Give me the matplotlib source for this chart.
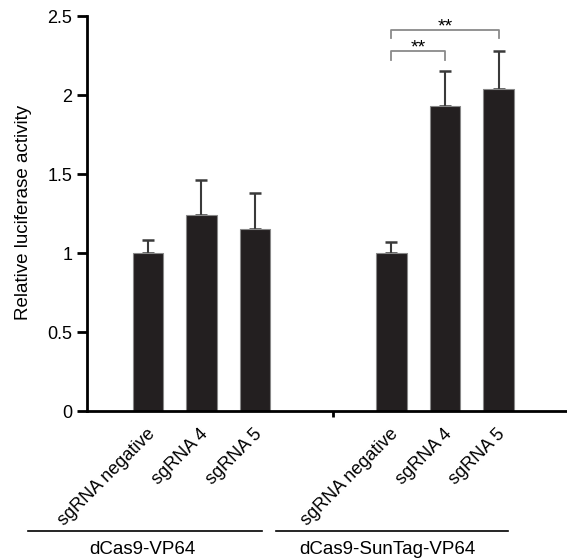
import matplotlib.pyplot as plt
from matplotlib.lines import Line2D
from matplotlib.transforms import ScaledTranslation

plt.rcParams['font.family'] = ['Liberation Sans', 'DejaVu Sans']

# data
categories = ['sgRNA negative', 'sgRNA 4', 'sgRNA 5',
              'sgRNA negative', 'sgRNA 4', 'sgRNA 5']
positions = [0, 1, 2, 4.55, 5.55, 6.55]
means = [1.0, 1.24, 1.15, 1.0, 1.93, 2.04]
errors = [0.08, 0.22, 0.23, 0.07, 0.22, 0.24]
groups = ['dCas9-VP64', 'dCas9-SunTag-VP64']
yticks = [0, 0.5, 1, 1.5, 2, 2.5]
ytick_labels = ['0', '0.5', '1', '1.5', '2', '2.5']

fig = plt.figure(figsize=(5.67, 5.58), dpi=100)
ax = fig.add_axes([0.1534, 0.2634, 0.8466, 0.7079])

ax.bar(positions, means, width=0.57, color='#231f20', edgecolor='#888888',
       linewidth=0.8, zorder=2)
ax.errorbar(positions, means, yerr=[[0] * len(errors), errors], fmt='none',
            ecolor='#3a3a3a', elinewidth=1.5, capsize=4.5, capthick=1.8, zorder=1)

ax.set_xlim(-1.14, 7.83)
ax.set_ylim(0, 2.5)
ax.set_yticks(yticks)
ax.set_yticklabels(ytick_labels, fontsize=13)
ax.set_ylabel('Relative luciferase activity', fontsize=13.5)
ax.yaxis.set_label_coords(-0.115, 0.504)

ax.set_xticks(positions)
ax.set_xticklabels(categories, rotation=45, ha='right', va='center',
                   rotation_mode='anchor', fontsize=13)
ax.tick_params(axis='x', length=0, pad=15)
ax.set_xticks([3.46], minor=True)
ax.tick_params(axis='x', which='minor', length=4, width=2)
ax.tick_params(axis='y', length=7, width=2, pad=3.5)
shift = ScaledTranslation(3 / 72, 0, fig.dpi_scale_trans)
for lab in ax.get_xticklabels():
    lab.set_transform(lab.get_transform() + shift)

for side in ['top', 'right']:
    ax.spines[side].set_visible(False)
ax.spines['left'].set_linewidth(2)
ax.spines['bottom'].set_linewidth(2)

# significance brackets
def bracket(x0, x1, y, drop, label):
    ax.plot([x0, x0, x1, x1], [y - drop, y, y, y - drop], color='#8a8a8a',
            lw=1.3, clip_on=False)
    ax.text((x0 + x1) / 2, y - 0.035, label, ha='center', va='bottom',
            fontsize=14, clip_on=False)

bracket(positions[3], positions[4], 2.28, 0.06, '**')
bracket(positions[3], positions[5], 2.41, 0.05, '**')

# group underlines and labels (figure pixels)
W, H = 567, 558
for (x0, x1), xc, name in zip([(28, 262), (276, 508)], [142, 387], groups):
    fig.add_artist(Line2D([x0 / W, x1 / W], [(H - 531) / H] * 2,
                          color='black', lw=1.2))
    fig.text(xc / W, (H - 549) / H, name, ha='center', va='center',
             fontsize=13.5)

fig.savefig('out.png', dpi=100)
